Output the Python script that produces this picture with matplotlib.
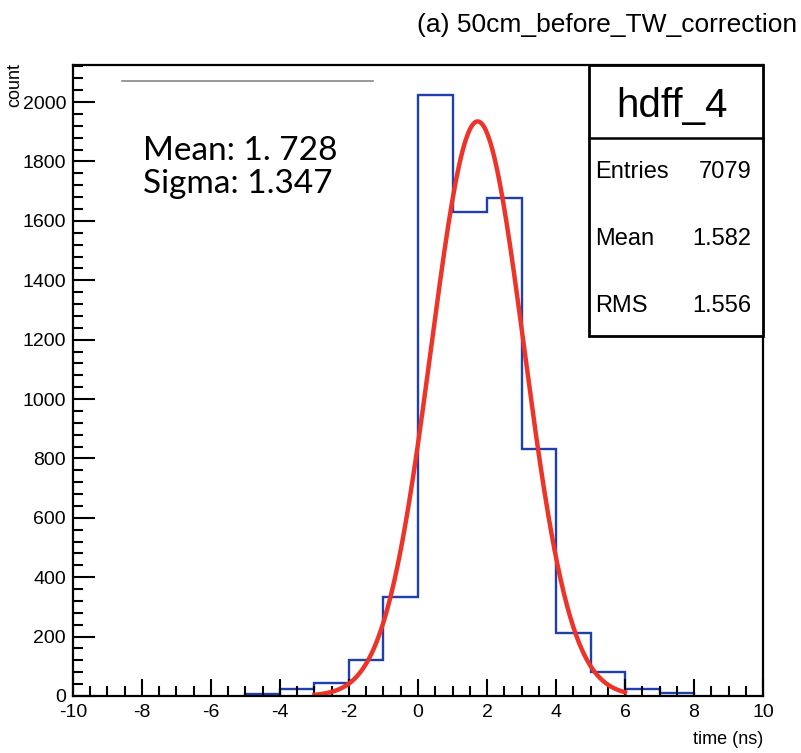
import numpy as np
import matplotlib
matplotlib.use("Agg")
import matplotlib.pyplot as plt
from matplotlib.ticker import MultipleLocator
from matplotlib.patches import Rectangle

plt.rcParams['font.family'] = ['Liberation Sans', 'DejaVu Sans']
plt.rcParams['axes.unicode_minus'] = False

# histogram hdff_4: 1 ns bins
bin_edges = [-5, -4, -3, -2, -1, 0, 1, 2, 3, 4, 5, 6, 7, 8]
counts = [6, 23, 45, 121, 332, 2023, 1630, 1677, 832, 212, 81, 23, 10]

# gaussian fit
fit_const = 1935
fit_mean = 1.728
fit_sigma = 1.347
fit_range = (-3.0, 6.0)

stats_labels = ['Entries', 'Mean', 'RMS']
stats_values = ['7079', '1.582', '1.556']

fig = plt.figure(figsize=(8.01, 7.53), dpi=100)
ax = fig.add_axes([0.0911, 0.0757, 0.8615, 0.838])

ax.stairs(counts, bin_edges, color='#1f3fae', lw=1.7, baseline=0)

xf = np.linspace(fit_range[0], fit_range[1], 300)
yf = fit_const * np.exp(-0.5 * ((xf - fit_mean) / fit_sigma) ** 2)
ax.plot(xf, yf, color='#ee3328', lw=3.2)

ax.set_xlim(-10, 10)
ax.set_ylim(0, 2125)

ax.xaxis.set_major_locator(MultipleLocator(2))
ax.xaxis.set_minor_locator(MultipleLocator(0.5))
ax.yaxis.set_major_locator(MultipleLocator(200))
ax.yaxis.set_minor_locator(MultipleLocator(40))
ax.tick_params(axis='x', which='both', direction='in', top=False, width=1.5, labelsize=14, pad=6)
ax.tick_params(axis='x', which='major', length=12)
ax.tick_params(axis='x', which='minor', length=7)
ax.tick_params(axis='y', which='both', direction='in', right=False, width=1.5, labelsize=14, pad=5)
ax.tick_params(axis='y', which='major', length=16)
ax.tick_params(axis='y', which='minor', length=7)
for s in ax.spines.values():
    s.set_linewidth(1.6)

# stats box
tr = ax.transAxes
ax.add_patch(Rectangle((0.748, 0.5705), 0.252, 0.4295, transform=tr, fill=True,
                       facecolor='white', edgecolor='black', lw=2, zorder=5, clip_on=False))
ax.plot([0.748, 1.0], [0.884, 0.884], transform=tr, color='black', lw=1.8, zorder=6, clip_on=False)
ax.text(0.868, 0.9176, 'hdff_4', transform=tr, ha='center', va='baseline', fontsize=29, zorder=7)
for i, (lab, val) in enumerate(zip(stats_labels, stats_values)):
    yy = 0.8209 - i * 0.1061
    ax.text(0.7565, yy, lab, transform=tr, ha='left', va='baseline', fontsize=17, zorder=7)
    ax.text(0.9826, yy, val, transform=tr, ha='right', va='baseline', fontsize=17, zorder=7)

# fit result
ax.plot([0.071, 0.4348], [0.9746, 0.9746], transform=tr, color='#888888', lw=1.2)
ax.text(0.1014, 0.8494, 'Mean: 1. 728', transform=tr, ha='left', va='baseline',
        fontsize=24, family=['Lato', 'DejaVu Sans'])
ax.text(0.1014, 0.797, 'Sigma: 1.347', transform=tr, ha='left', va='baseline',
        fontsize=24, family=['Lato', 'DejaVu Sans'])

fig.text(0.995, 0.957, '(a) 50cm_before_TW_correction', ha='right', va='baseline', fontsize=19)
fig.text(0.019, 0.916, 'count', rotation=90, ha='center', va='top', fontsize=13)
fig.text(0.9526, 0.0173, 'time (ns)', ha='right', va='center', fontsize=13)

fig.savefig('out.png', dpi=100)
